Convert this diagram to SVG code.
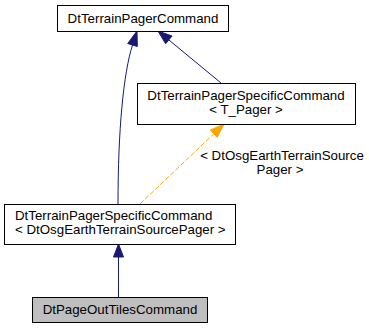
<svg xmlns="http://www.w3.org/2000/svg" width="369" height="328" viewBox="0 0 369 328">
<style>
.node rect{stroke:#000;stroke-width:1;fill:#fff}
.node.cur rect{fill:#bfbfbf}
text{font-family:"Liberation Sans",Arial,sans-serif;font-size:13.3px;fill:#000}
.c{text-anchor:middle}
.e{fill:none;stroke:#191970;stroke-width:1}
.ea{fill:#191970;stroke:#191970}
.t{fill:none;stroke:#ffa500;stroke-width:1;stroke-dasharray:5,2}
.ta{fill:#ffa500;stroke:#ffa500}
</style>
<rect width="369" height="328" fill="#fff"/>
<g id="connectors">
<path class="e" d="M118,204 C118,130 123.5,73 132.5,45"/>
<polygon class="ea" points="137,31 137.3,46.5 127.7,43.5"/>
<path class="e" d="M221,83 L168.8,39.9"/>
<polygon class="ea" points="158,31 172,36 165.6,43.8"/>
<path class="t" d="M140,204 L213.9,133.7"/>
<polygon class="ta" points="224,124 217.3,137.3 210.4,130.1"/>
<text class="c" x="282" y="160">&lt; DtOsgEarthTerrainSource</text>
<text class="c" x="280" y="174">Pager &gt;</text>
<path class="e" d="M118.5,297 L118.5,257"/>
<polygon class="ea" points="118.5,244 123.5,257 113.5,257"/>
</g>
<g id="node-DtTerrainPagerCommand" class="node">
<rect x="57.5" y="5.5" width="171" height="26"/>
<text class="c" x="143" y="23">DtTerrainPagerCommand</text>
</g>
<g id="node-DtTerrainPagerSpecificCommand-T_Pager" class="node">
<rect x="137.5" y="83.5" width="218" height="41"/>
<text class="c" x="246" y="100">DtTerrainPagerSpecificCommand</text>
<text class="c" x="246" y="114">&lt; T_Pager &gt;</text>
</g>
<g id="node-DtTerrainPagerSpecificCommand-DtOsgEarth" class="node">
<rect x="4.5" y="204.5" width="231" height="40"/>
<text x="15" y="220">DtTerrainPagerSpecificCommand</text>
<text x="15" y="234">&lt; DtOsgEarthTerrainSourcePager &gt;</text>
</g>
<g id="node-DtPageOutTilesCommand" class="node cur">
<rect x="32.5" y="297.5" width="175" height="25"/>
<text class="c" x="120" y="314">DtPageOutTilesCommand</text>
</g>
</svg>
